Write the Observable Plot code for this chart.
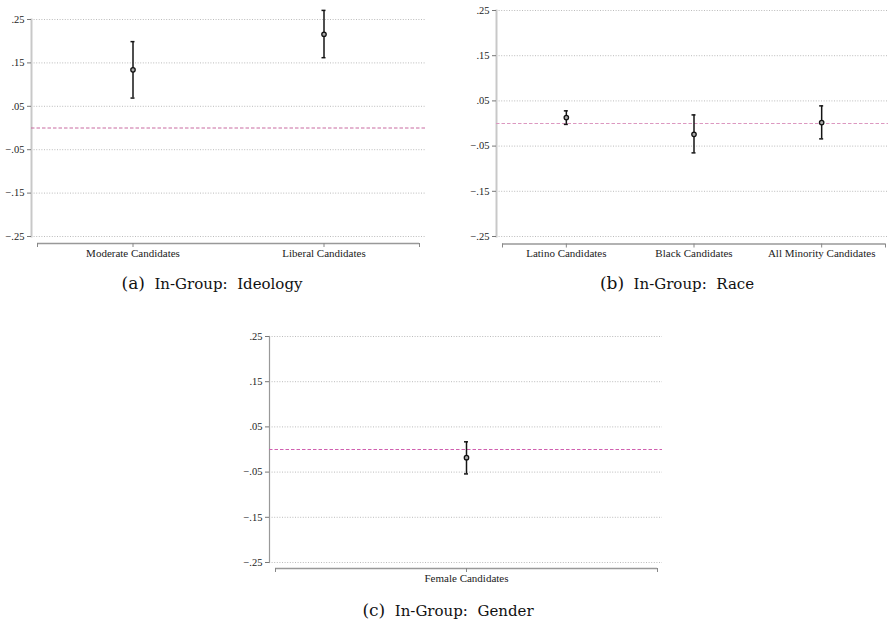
<!DOCTYPE html>
<html>
<head>
<meta charset="utf-8">
<script src="https://cdn.jsdelivr.net/npm/d3@7"></script>
<script src="https://cdn.jsdelivr.net/npm/@observablehq/plot@0.6"></script>
<style>
  html, body { margin: 0; padding: 0; background: #fff; }
  #root { position: relative; width: 889px; height: 623px; overflow: hidden; }
  .panel { position: absolute; }
  .cap { position: absolute; text-align: center; font-family: "DejaVu Serif", "Liberation Serif", serif; font-size: 15px; color: #111; white-space: pre; line-height: 20px; }
  .cap .lab { font-size: 17px; }
</style>
</head>
<body>
<div id="root"></div>
<script>
// ---- data ----
const ideologyCats = ["Moderate Candidates", "Liberal Candidates"];
const ideologyEst = [0.134, 0.216];
const ideologyLo = [0.069, 0.162];
const ideologyHi = [0.199, 0.271];

const raceCats = ["Latino Candidates", "Black Candidates", "All Minority Candidates"];
const raceEst = [0.013, -0.024, 0.002];
const raceLo = [-0.002, -0.065, -0.034];
const raceHi = [0.028, 0.019, 0.039];

const genderCats = ["Female Candidates"];
const genderEst = [-0.018];
const genderLo = [-0.054];
const genderHi = [0.017];

const yTicks = [-0.25, -0.15, -0.05, 0.05, 0.15, 0.25];
const captionLabels = ["(a)", "(b)", "(c)"];
const captionTexts = ["In-Group:  Ideology", "In-Group:  Race", "In-Group:  Gender"];

// ---- drawing ----
const fmt = d => d3.format(".2f")(d).replace("0.", ".");

function panel(cats, est, lo, hi, cfg) {
  const n = cats.length;
  const data = cats.map((c, i) => ({i, est: est[i], lo: lo[i], hi: hi[i]}));
  const xt = [-0.5, ...d3.range(n), n - 0.5];
  return Plot.plot({
    width: cfg.width,
    height: cfg.height,
    marginLeft: cfg.ml,
    marginRight: cfg.mr,
    marginTop: cfg.mt,
    marginBottom: cfg.mb,
    style: {fontFamily: "'Liberation Serif', serif", fontSize: "10.5px", color: "#222", background: "#fff"},
    x: {domain: [-0.5, n - 0.5], insetLeft: cfg.il, insetRight: cfg.ir},
    y: {domain: [-0.25, 0.25]},
    marks: [
      Plot.gridY(yTicks, {stroke: "#aaa", strokeOpacity: 1, strokeWidth: 0.8, strokeDasharray: "1,1.6"}),
      Plot.frame({anchor: "left", stroke: cfg.axisColor, strokeWidth: cfg.axisWidth}),
      Plot.axisY(yTicks, {tickSize: 4, tickPadding: 3, tickFormat: fmt, label: null, stroke: "#777"}),
      Plot.ruleY([-0.25], {x1: -0.5, x2: n - 0.5, dy: cfg.xoff, stroke: "#999", strokeWidth: 1.3}),
      Plot.axisX(xt, {tickSize: 4, tickPadding: 1.5, dy: cfg.xoff, label: null, stroke: "#888",
        tickFormat: i => Number.isInteger(i) ? cats[i] : "", fontSize: "11px"}),
      Plot.ruleY([0], {stroke: cfg.zeroColor, strokeWidth: 1, strokeDasharray: "3.5,2"}),
      Plot.ruleX(data, {x: "i", y1: "lo", y2: "hi", stroke: "#151515", strokeWidth: 1.5}),
      Plot.ruleY(data, {y: "lo", x1: "i", x2: "i", insetLeft: -2, insetRight: -2, stroke: "#151515", strokeWidth: 1.5}),
      Plot.ruleY(data, {y: "hi", x1: "i", x2: "i", insetLeft: -2, insetRight: -2, stroke: "#151515", strokeWidth: 1.5}),
      Plot.dot(data, {x: "i", y: "est", r: 2.2, stroke: "#111", strokeWidth: 1.3, fill: "#aaa"})
    ]
  });
}

const root = document.getElementById("root");
function place(el, left, top) {
  const d = document.createElement("div");
  d.className = "panel";
  d.style.left = left + "px";
  d.style.top = top + "px";
  d.appendChild(el);
  root.appendChild(d);
}
function caption(k, cx, cy) {
  const d = document.createElement("div");
  d.className = "cap";
  d.style.left = (cx - 150) + "px";
  d.style.width = "300px";
  d.style.top = (cy - 11) + "px";
  const s = document.createElement("span");
  s.className = "lab";
  s.textContent = captionLabels[k];
  d.appendChild(s);
  d.appendChild(document.createTextNode("  " + captionTexts[k]));
  root.appendChild(d);
}

place(panel(ideologyCats, ideologyEst, ideologyLo, ideologyHi, {
  width: 440, height: 265, ml: 31, mr: 15, mt: 19, mb: 29, il: 6, ir: 6, xoff: 7,
  axisColor: "#c8c8c8", axisWidth: 2, zeroColor: "#c86aa0"
}), 0, 0);

place(panel(raceCats, raceEst, raceLo, raceHi, {
  width: 449, height: 265, ml: 56, mr: 1, mt: 10, mb: 29, il: 6, ir: 3, xoff: 7.5,
  axisColor: "#c8c8c8", axisWidth: 2, zeroColor: "#dc98c0"
}), 440, 0);

place(panel(genderCats, genderEst, genderLo, genderHi, {
  width: 450, height: 290, ml: 49, mr: 8, mt: 36, mb: 28, il: 6, ir: 5, xoff: 6,
  axisColor: "#999", axisWidth: 1.2, zeroColor: "#d060b0"
}), 220, 300);

caption(0, 212, 284);
caption(1, 677, 284);
caption(2, 448, 611);
</script>
</body>
</html>
